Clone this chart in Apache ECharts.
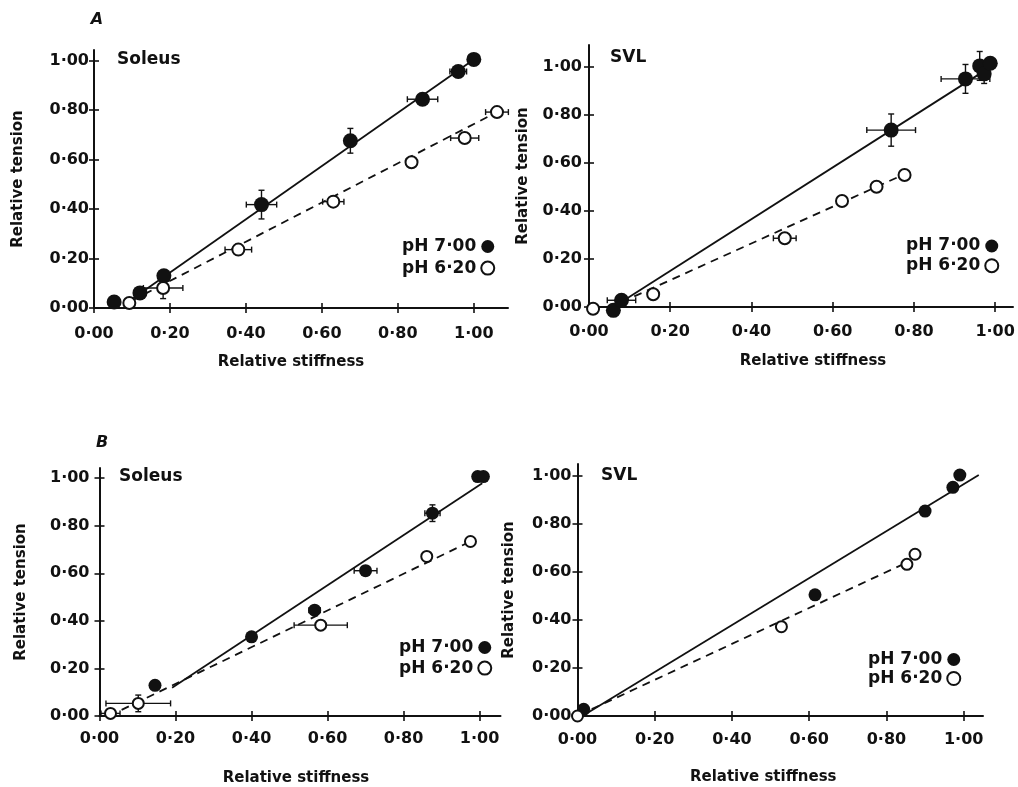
<!DOCTYPE html>
<html><head><meta charset="utf-8">
<script src="https://cdn.jsdelivr.net/npm/echarts@6/dist/echarts.min.js"></script>
<style>html,body{margin:0;padding:0;background:#fff}#c{width:1018px;height:787px}</style>
</head><body><div id="c"></div>
<script>
// ---------- data ----------
const tickValues = [0, 0.2, 0.4, 0.6, 0.8, 1.0];
const seriesNames = ['pH 7\u00B700', 'pH 6\u00B720'];

// A, Soleus
const aSolFilled = [[0.053,0.024],[0.121,0.061],[0.184,0.13],[0.441,0.418],[0.675,0.676],[0.865,0.844],[0.959,0.956],[1.00,1.005]];
const aSolFilledXErr = [0,0,0,0.04,0,0.04,0.022,0];
const aSolFilledYErr = [0,0,0,0.058,0.05,0,0,0];
const aSolOpen = [[0.093,0.02],[0.182,0.081],[0.38,0.236],[0.63,0.43],[0.836,0.589],[0.976,0.687],[1.061,0.792]];
const aSolOpenXErr = [0,0.052,0.035,0.028,0,0.037,0.03];
const aSolOpenYErr = [0,0.043,0,0,0,0,0];
const aSolFit7 = [[0.095,0.03],[1.0,1.005]];
const aSolFit62 = [[0.10,0.03],[1.061,0.792]];

// A, SVL
const aSvlFilled = [[0.06,-0.014],[0.08,0.028],[0.744,0.736],[0.927,0.949],[0.962,1.003],[0.973,0.97],[0.988,1.014]];
const aSvlFilledXErr = [0,0.035,0.06,0.06,0,0,0];
const aSvlFilledYErr = [0,0,0.067,0.06,0.06,0.04,0];
const aSvlOpen = [[0.01,-0.007],[0.158,0.053],[0.482,0.286],[0.623,0.441],[0.708,0.50],[0.777,0.549]];
const aSvlOpenXErr = [0,0,0.028,0,0,0];
const aSvlOpenYErr = [0,0,0,0,0,0];
const aSvlFit7 = [[0.07,0.01],[0.99,1.0]];
const aSvlFit62 = [[0.08,0.02],[0.78,0.555]];

// B, Soleus
const bSolFilled = [[0.146,0.129],[0.40,0.333],[0.566,0.445],[0.70,0.611],[0.876,0.853],[0.995,1.007],[1.01,1.007]];
const bSolFilledXErr = [0,0,0.015,0.03,0.02,0,0];
const bSolFilledYErr = [0,0,0.015,0,0.035,0,0];
const bSolOpen = [[0.029,0.011],[0.102,0.053],[0.582,0.382],[0.861,0.671],[0.976,0.734]];
const bSolOpenXErr = [0.025,0.085,0.07,0,0];
const bSolOpenYErr = [0,0.035,0,0,0];
const bSolFit7 = [[0.191,0.119],[1.007,0.979]];
const bSolFit62 = [[0.025,0.0],[0.976,0.734]];

// B, SVL
const bSvlFilled = [[0.016,0.028],[0.615,0.505],[0.90,0.854],[0.972,0.953],[0.99,1.004]];
const bSvlFilledXErr = [0,0,0,0,0];
const bSvlFilledYErr = [0,0,0,0,0];
const bSvlOpen = [[0.0,0.0],[0.528,0.372],[0.853,0.632],[0.874,0.674]];
const bSvlOpenXErr = [0,0,0,0];
const bSvlOpenYErr = [0,0,0,0];
const bSvlFit7 = [[0.017,0.004],[1.039,1.004]];
const bSvlFit62 = [[0.004,0.004],[0.844,0.633]];

// ---------- layout / style ----------
const FONT = 'DejaVu Sans';
const INK = '#111';
const fmt = v => Number(v).toFixed(2).replace('.', '\u00B7');

const panels = [
  {label:'Soleus', labelPos:[117,60], left:94, top:50, width:414, height:258, xMax:1.09, yMax:1.043,
   xNameGap:47, xNamePad:[0,20,0,0], yNameGap:68, xLabelMargin:18, yLabelMargin:5,
   legend:{left:402, top:238, gap:4.6}, fSize:15, oSize:12,
   filled:aSolFilled, fxe:aSolFilledXErr, fye:aSolFilledYErr, open:aSolOpen, oxe:aSolOpenXErr, oye:aSolOpenYErr, fit7:aSolFit7, fit62:aSolFit62},
  {label:'SVL', labelPos:[610,58], left:589, top:45, width:424, height:262, xMax:1.044, yMax:1.09,
   xNameGap:47, xNamePad:[0,0,0,24], yNameGap:58, xLabelMargin:17, yLabelMargin:7,
   legend:{left:906, top:237.5, gap:2.7}, fSize:15, oSize:12,
   filled:aSvlFilled, fxe:aSvlFilledXErr, fye:aSvlFilledYErr, open:aSvlOpen, oxe:aSvlOpenXErr, oye:aSvlOpenYErr, fit7:aSvlFit7, fit62:aSvlFit62},
  {label:'Soleus', labelPos:[119,477], left:99.5, top:468, width:401, height:248.7, xMax:1.055, yMax:1.043,
   xNameGap:55, xNamePad:[0,8,0,0], yNameGap:71, xLabelMargin:15, yLabelMargin:10,
   legend:{left:399, top:639, gap:3.6}, fSize:13, oSize:11,
   filled:bSolFilled, fxe:bSolFilledXErr, fye:bSolFilledYErr, open:bSolOpen, oxe:bSolOpenXErr, oye:bSolOpenYErr, fit7:bSolFit7, fit62:bSolFit62},
  {label:'SVL', labelPos:[601,476], left:577.5, top:464, width:405.5, height:252, xMax:1.05, yMax:1.05,
   xNameGap:54, xNamePad:[0,34,0,0], yNameGap:61, xLabelMargin:16, yLabelMargin:6,
   legend:{left:868, top:651, gap:2}, fSize:13, oSize:11,
   filled:bSvlFilled, fxe:bSvlFilledXErr, fye:bSvlFilledYErr, open:bSvlOpen, oxe:bSvlOpenXErr, oye:bSvlOpenYErr, fit7:bSvlFit7, fit62:bSvlFit62}
];

const labelFont = {fontFamily:FONT, fontWeight:'bold', fontSize:16, color:INK};
const legendFont = {fontFamily:FONT, fontWeight:'bold', fontSize:17, color:INK};
const nameFont = {fontFamily:FONT, fontWeight:'bold', fontSize:15, color:INK};

function errRender(params, api) {
  const x = api.value(0), y = api.value(1), xe = api.value(2), ye = api.value(3);
  const st = {stroke: INK, lineWidth: 1.4};
  const cap = 3;
  const ch = [];
  if (xe > 0) {
    const a = api.coord([x - xe, y]), b = api.coord([x + xe, y]);
    ch.push({type:'line', shape:{x1:a[0], y1:a[1], x2:b[0], y2:b[1]}, style:st});
    ch.push({type:'line', shape:{x1:a[0], y1:a[1]-cap, x2:a[0], y2:a[1]+cap}, style:st});
    ch.push({type:'line', shape:{x1:b[0], y1:b[1]-cap, x2:b[0], y2:b[1]+cap}, style:st});
  }
  if (ye > 0) {
    const a = api.coord([x, y - ye]), b = api.coord([x, y + ye]);
    ch.push({type:'line', shape:{x1:a[0], y1:a[1], x2:b[0], y2:b[1]}, style:st});
    ch.push({type:'line', shape:{x1:a[0]-cap, y1:a[1], x2:a[0]+cap, y2:a[1]}, style:st});
    ch.push({type:'line', shape:{x1:b[0]-cap, y1:b[1], x2:b[0]+cap, y2:b[1]}, style:st});
  }
  return {type:'group', children:ch};
}

const option = {animation:false, backgroundColor:'#fff', grid:[], xAxis:[], yAxis:[], series:[], legend:[], graphic:[]};

panels.forEach((p, i) => {
  option.grid.push({left:p.left, top:p.top, width:p.width, height:p.height});
  const tickStyle = {color:INK, width:1.6};
  const lblFmt = v => (Math.abs(v*5 - Math.round(v*5)) < 1e-6 && v <= 1.0001) ? fmt(v) : '';
  option.xAxis.push({
    type:'value', gridIndex:i, min:0, max:p.xMax, interval:0.2, position:'bottom',
    name:'Relative stiffness', nameLocation:'middle', nameGap:p.xNameGap,
    nameTextStyle:Object.assign({padding:p.xNamePad}, nameFont),
    splitLine:{show:false},
    axisLine:{show:true, onZero:false, lineStyle:{color:INK, width:2}},
    axisTick:{show:true, inside:false, length:5, customValues:tickValues, lineStyle:tickStyle},
    axisLabel:Object.assign({show:true, customValues:tickValues, margin:p.xLabelMargin, formatter:lblFmt}, labelFont)
  }, {
    type:'value', gridIndex:i, min:0, max:p.xMax, interval:0.2, position:'bottom',
    splitLine:{show:false}, axisLine:{show:false, onZero:false},
    axisTick:{show:true, inside:true, length:5, customValues:tickValues, lineStyle:tickStyle},
    axisLabel:{show:false}
  });
  option.yAxis.push({
    type:'value', gridIndex:i, min:0, max:p.yMax, interval:0.2, position:'left',
    name:'Relative tension', nameLocation:'middle', nameGap:p.yNameGap, nameTextStyle:nameFont,
    splitLine:{show:false},
    axisLine:{show:true, onZero:false, lineStyle:{color:INK, width:2}},
    axisTick:{show:true, inside:false, length:5, customValues:tickValues, lineStyle:tickStyle},
    axisLabel:Object.assign({show:true, customValues:tickValues, margin:p.yLabelMargin, formatter:lblFmt}, labelFont)
  }, {
    type:'value', gridIndex:i, min:0, max:p.yMax, interval:0.2, position:'left',
    splitLine:{show:false}, axisLine:{show:false, onZero:false},
    axisTick:{show:true, inside:true, length:5, customValues:tickValues, lineStyle:tickStyle},
    axisLabel:{show:false}
  });
  const xi = 2*i, yi = 2*i;
  option.series.push(
    {type:'line', name:'fit7_'+i, xAxisIndex:xi, yAxisIndex:yi, data:p.fit7, symbol:'none', silent:true, z:2,
     lineStyle:{color:INK, width:1.8}},
    {type:'line', name:'fit62_'+i, xAxisIndex:xi, yAxisIndex:yi, data:p.fit62, symbol:'none', silent:true, z:2,
     lineStyle:{color:INK, width:1.8, type:[8,6]}},
    {type:'custom', name:'err7_'+i, xAxisIndex:xi, yAxisIndex:yi, renderItem:errRender, clip:false, z:3, silent:true,
     encode:{x:0, y:1}, data:p.filled.map((d, k) => [d[0], d[1], p.fxe[k], p.fye[k]])},
    {type:'custom', name:'err62_'+i, xAxisIndex:xi, yAxisIndex:yi, renderItem:errRender, clip:false, z:3, silent:true,
     encode:{x:0, y:1}, data:p.open.map((d, k) => [d[0], d[1], p.oxe[k], p.oye[k]])},
    {type:'scatter', name:seriesNames[0], xAxisIndex:xi, yAxisIndex:yi, data:p.filled, symbol:'circle',
     symbolSize:p.fSize, clip:false, z:5, itemStyle:{color:INK, opacity:1}},
    {type:'scatter', name:seriesNames[1], xAxisIndex:xi, yAxisIndex:yi, data:p.open, symbol:'circle',
     symbolSize:p.oSize, clip:false, z:6, itemStyle:{color:'#fff', borderColor:INK, borderWidth:2, opacity:1}}
  );
  option.legend.push({
    left:p.legend.left, top:p.legend.top, orient:'vertical', align:'right', padding:0,
    itemWidth:13, itemHeight:13, itemGap:p.legend.gap, selectedMode:false,
    data:[
      {name:seriesNames[0], icon:'circle', itemStyle:{color:INK, borderWidth:0, opacity:1}},
      {name:seriesNames[1], icon:'circle', itemStyle:{color:'#fff', borderColor:INK, borderWidth:2, opacity:1}}
    ],
    textStyle:legendFont
  });
  option.graphic.push({type:'text', x:p.labelPos[0], y:p.labelPos[1],
    style:{text:p.label, fill:INK, font:'bold 17px "DejaVu Sans"', textAlign:'left', textVerticalAlign:'middle'}});
});

option.graphic.push(
  {type:'text', x:97, y:20, style:{text:'A', fill:INK, font:'italic bold 16px "DejaVu Sans"', textAlign:'center', textVerticalAlign:'middle'}},
  {type:'text', x:102, y:443, style:{text:'B', fill:INK, font:'italic bold 16px "DejaVu Sans"', textAlign:'center', textVerticalAlign:'middle'}}
);

const chart = echarts.init(document.getElementById('c'), null, {renderer:'canvas'});
chart.setOption(option);
</script>
</body></html>
